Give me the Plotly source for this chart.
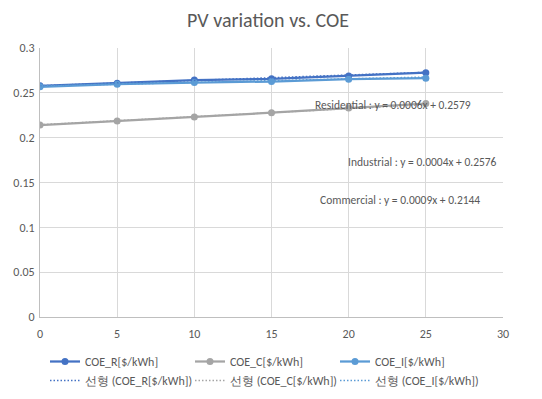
import plotly.graph_objects as go

# ---- data ----
pv_years = [0, 5, 10, 15, 20, 25]
coe_r = [0.2578, 0.2608, 0.2642, 0.2656, 0.2688, 0.2725]
coe_c = [0.2141, 0.2186, 0.2230, 0.2278, 0.2330, 0.2381]
coe_i = [0.2567, 0.2596, 0.2615, 0.2626, 0.2652, 0.2663]

series_names = ["COE_R[$/kWh]", "COE_C[$/kWh]", "COE_I[$/kWh]"]
trend_slopes = [0.0006, 0.0009, 0.0004]
trend_intercepts = [0.2579, 0.2144, 0.2576]
trend_labels = ["Residential", "Commercial", "Industrial"]

x_ticks = [0, 5, 10, 15, 20, 25, 30]
y_ticks = [0, 0.05, 0.1, 0.15, 0.2, 0.25, 0.3]

colors = ["#4472C4", "#A5A5A5", "#5B9BD5"]
FONT = "Carlito, Calibri, 'Liberation Sans Narrow', 'Noto Sans', sans-serif"
TXT = "#595959"

# page body has an 8px margin; figure is sized to fit the window
W, H = 534, 391

fig = go.Figure()
for name, vals, col in zip(series_names, [coe_r, coe_c, coe_i], colors):
    fig.add_trace(go.Scatter(
        x=pv_years, y=vals, mode="lines+markers", name=name,
        line=dict(color=col, width=2.25),
        marker=dict(color=col, size=7, symbol="circle"),
    ))

for name, m, b, col in zip(series_names, trend_slopes, trend_intercepts, colors):
    fig.add_trace(go.Scatter(
        x=pv_years, y=[m * x + b for x in pv_years], mode="lines",
        name=f"선형 ({name})",
        line=dict(color=col, width=1.5, dash="1.5px,2px"),
    ))

# trendline equation labels (positions in data coordinates)
label_pos = {"Residential": (17.7, 0.2364), "Industrial": (19.8, 0.1728), "Commercial": (18.0, 0.1304)}
for lab, m, b in zip(trend_labels, trend_slopes, trend_intercepts):
    px, py = label_pos[lab]
    fig.add_annotation(
        x=px, y=py, xref="x", yref="y", xanchor="left", yanchor="middle",
        text=f"{lab} : y = {m:.4f}x + {b:.4f}", showarrow=False,
        font=dict(family=FONT, size=11.5, color=TXT),
    )

fig.update_layout(
    width=W, height=H,
    margin=dict(l=32, r=39, t=40, b=82, autoexpand=False),
    paper_bgcolor="white", plot_bgcolor="white",
    font=dict(family=FONT, size=12, color=TXT),
    title=dict(text="PV variation vs. COE", x=260 / W, xref="container", xanchor="center",
               y=1 - 12 / H, yref="container", yanchor="middle",
               font=dict(family=FONT, size=20, color=TXT)),
    showlegend=True,
    legend=dict(orientation="h", x=37 / W, xref="container", xanchor="left",
                y=1 - 339 / H, yref="container", yanchor="top",
                entrywidth=100, entrywidthmode="pixels",
                font=dict(family=FONT, size=12, color=TXT),
                bgcolor="rgba(0,0,0,0)", tracegroupgap=0),
)
fig.update_xaxes(range=[0, 30], tickvals=x_ticks, showgrid=True, gridcolor="#D9D9D9",
                 gridwidth=1, zeroline=False, showline=True, linecolor="#BFBFBF",
                 linewidth=1, ticks="", ticklabelstandoff=6,
                 tickfont=dict(size=12, color=TXT))
fig.update_yaxes(range=[0, 0.3], tickvals=y_ticks, showgrid=True, gridcolor="#D9D9D9",
                 gridwidth=1, zeroline=False, showline=True, linecolor="#BFBFBF",
                 linewidth=1, ticks="", ticklabelstandoff=2,
                 tickfont=dict(size=12, color=TXT))

fig.write_html("out.html")
